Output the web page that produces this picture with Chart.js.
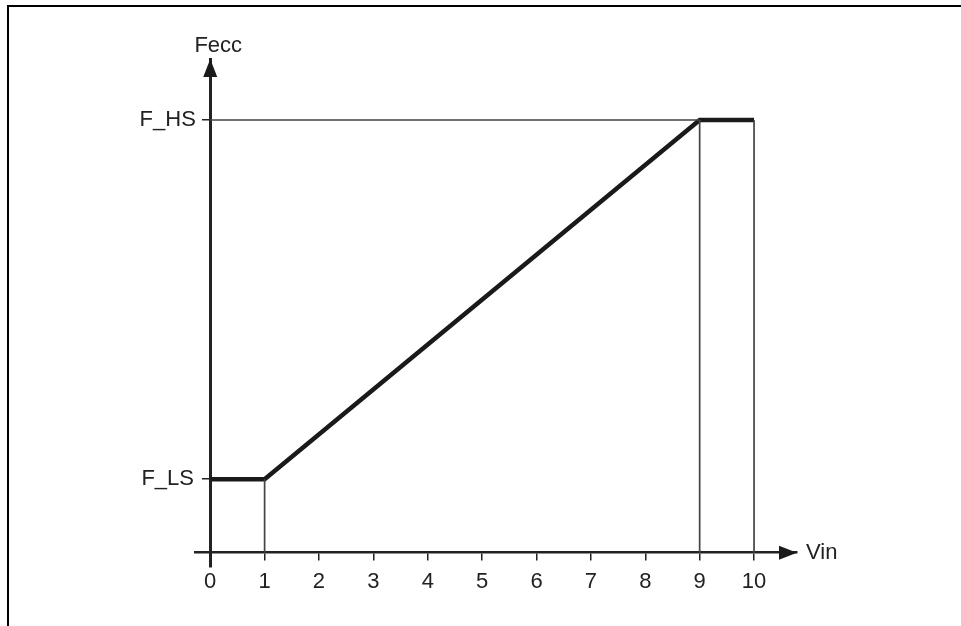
<!DOCTYPE html>
<html lang="en">
<head>
    <meta charset="UTF-8">
    <title>Fecc vs Vin</title>
    <style>
    body {
        margin: 0;
        padding: 0;
        background-color: white;
        overflow: hidden;
    }
    .frame {
        position: absolute;
        left: 7px;
        top: 5px;
        right: 0;
        bottom: 0;
        border-top: 2px solid black;
        border-left: 2px solid black;
    }
    .chart-container {
        position: absolute;
        left: 0;
        top: 0;
        width: 961px;
        height: 626px;
    }
    </style>
    <script src="https://cdn.jsdelivr.net/npm/chart.js"></script>
</head>
<body>
    <div class="frame"></div>
    <div class="chart-container">
        <canvas id="feccChart"></canvas>
    </div>

    <script>
    // characteristic curve: Fecc as a function of Vin
    const vinPoints = [0, 1, 9, 10];
    const feccPoints = [1.7, 1.7, 10, 10];   // F_LS, F_LS, F_HS, F_HS

    // axis ticks
    const xTickValues = [0, 1, 2, 3, 4, 5, 6, 7, 8, 9, 10];
    const yTickValues = [1.7, 10];
    const yTickLabels = ['F_LS', 'F_HS'];

    // axis extents (axis lines run slightly past the origin)
    const xRange = [-0.28, 10.79];
    const yRange = [-0.33, 11.41];

    const axisColor = '#222';
    const guideColor = '#444';
    const fontFamily = '"Liberation Sans", Arial, sans-serif';

    // thin guide lines: verticals under each break point, horizontal at F_HS
    const guideData = [];
    for (let i = 1; i < vinPoints.length; i++) {
        guideData.push({ x: vinPoints[i], y: 0 });
        guideData.push({ x: vinPoints[i], y: feccPoints[i] });
        guideData.push({ x: vinPoints[i], y: null });
    }
    guideData.push({ x: 0, y: feccPoints[2] });
    guideData.push({ x: vinPoints[2], y: feccPoints[2] });

    const curveData = vinPoints.map((v, i) => ({ x: v, y: feccPoints[i] }));

    // arrow heads, y tick labels and axis names
    const axisArrows = {
        id: 'axisArrows',
        afterDraw(chart) {
            const ctx = chart.ctx;
            const xs = chart.scales.x;
            const ys = chart.scales.y;
            const x0 = xs.getPixelForValue(0);
            const y0 = ys.getPixelForValue(0);
            const top = ys.getPixelForValue(yRange[1]);
            const right = xs.getPixelForValue(xRange[1]);

            ctx.save();
            ctx.fillStyle = '#1a1a1a';
            ctx.beginPath();
            ctx.moveTo(x0, top);
            ctx.lineTo(x0 - 7, top + 18);
            ctx.lineTo(x0 + 7, top + 18);
            ctx.closePath();
            ctx.fill();

            ctx.beginPath();
            ctx.moveTo(right, y0);
            ctx.lineTo(right - 18, y0 - 7);
            ctx.lineTo(right - 18, y0 + 7);
            ctx.closePath();
            ctx.fill();

            ctx.fillStyle = axisColor;
            ctx.font = '22px ' + fontFamily;

            // F_LS / F_HS next to the y axis
            ctx.textAlign = 'center';
            ctx.textBaseline = 'middle';
            yTickValues.forEach((v, i) => {
                ctx.fillText(yTickLabels[i], x0 - 42.5, ys.getPixelForValue(v));
            });

            ctx.textBaseline = 'alphabetic';
            ctx.fillText('Fecc', x0 + 8, top - 7);
            ctx.textAlign = 'left';
            ctx.fillText('Vin', right + 9, y0 + 6);
            ctx.restore();
        }
    };

    const ctx = document.getElementById('feccChart').getContext('2d');
    new Chart(ctx, {
        type: 'line',
        data: {
            datasets: [
                {
                    label: 'guides',
                    data: guideData,
                    borderColor: guideColor,
                    borderWidth: 1.7,
                    pointRadius: 0,
                    spanGaps: false
                },
                {
                    label: 'Fecc',
                    data: curveData,
                    borderColor: '#1a1a1a',
                    borderWidth: 4.5,
                    borderJoinStyle: 'miter',
                    pointRadius: 0
                }
            ]
        },
        options: {
            responsive: true,
            maintainAspectRatio: false,
            animation: false,
            events: [],
            layout: {
                padding: { left: 195, right: 164, top: 59, bottom: 59 }
            },
            scales: {
                x: {
                    type: 'linear',
                    position: { y: 0 },
                    min: xRange[0],
                    max: xRange[1],
                    afterBuildTicks: scale => {
                        scale.ticks = xTickValues.map(v => ({ value: v }));
                    },
                    grid: {
                        drawOnChartArea: false,
                        drawTicks: true,
                        tickLength: 7,
                        color: axisColor,
                        lineWidth: 1.5
                    },
                    border: { display: true, color: axisColor, width: 2.5 },
                    ticks: {
                        padding: 9,
                        color: axisColor,
                        maxRotation: 0,
                        font: { family: fontFamily, size: 22 }
                    }
                },
                y: {
                    type: 'linear',
                    position: { x: 0 },
                    min: yRange[0],
                    max: yRange[1],
                    afterBuildTicks: scale => {
                        scale.ticks = yTickValues.map(v => ({ value: v }));
                    },
                    grid: {
                        drawOnChartArea: false,
                        drawTicks: true,
                        tickLength: 7,
                        color: axisColor,
                        lineWidth: 1.5
                    },
                    border: { display: true, color: axisColor, width: 3 },
                    ticks: { display: false }
                }
            },
            plugins: {
                legend: { display: false },
                tooltip: { enabled: false }
            }
        },
        plugins: [axisArrows]
    });
    </script>
</body>
</html>
